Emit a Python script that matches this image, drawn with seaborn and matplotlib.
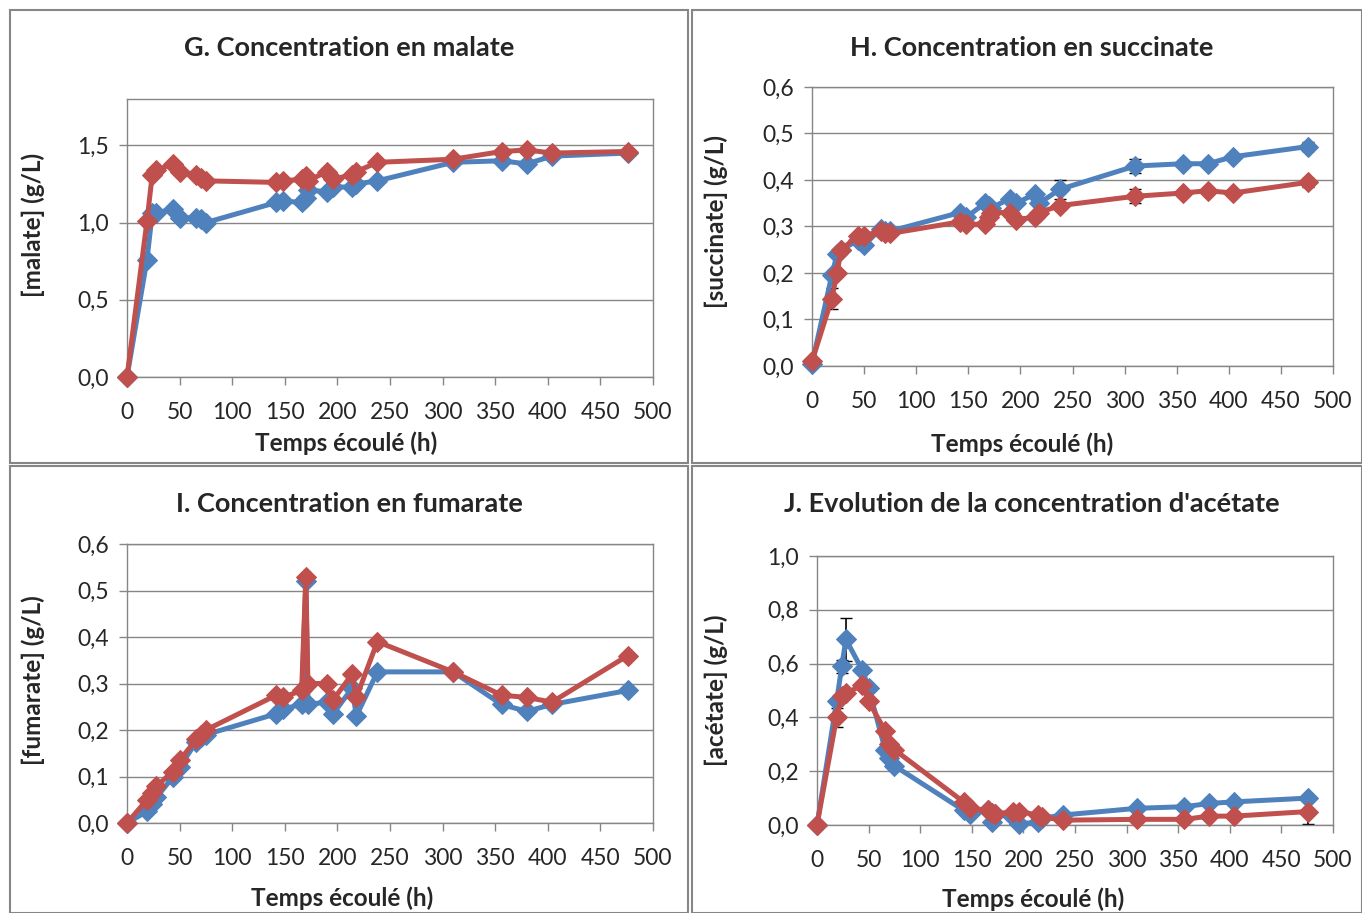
import numpy as np
import pandas as pd
import seaborn as sns
import matplotlib.pyplot as plt
from matplotlib.patches import Rectangle
from matplotlib.ticker import FuncFormatter

sns.set_style('white')
plt.rcParams['font.family'] = ['Lato', 'DejaVu Sans']

# temps de prélèvement (h)
temps = [0, 19, 24, 28, 44, 50, 66, 70, 75, 142, 148, 166, 170, 172,
         190, 196, 214, 218, 238, 310, 356, 380, 404, 476]

# G. malate (g/L)
malate_bleu = [0, 0.76, 1.06, 1.06, 1.09, 1.03, 1.03, 1.02, 1.00, 1.13, 1.14, 1.13,
               1.16, 1.21, 1.20, 1.23, 1.23, 1.25, 1.27, 1.39, 1.40, 1.38, 1.43, 1.45]
malate_rouge = [0, 1.01, 1.31, 1.34, 1.38, 1.33, 1.31, 1.29, 1.27, 1.26, 1.27, 1.28,
                1.30, 1.27, 1.33, 1.28, 1.31, 1.33, 1.39, 1.41, 1.46, 1.47, 1.45, 1.46]

# H. succinate (g/L)
succ_bleu = [0.005, 0.195, 0.24, 0.25, 0.27, 0.26, 0.295, 0.29, 0.29, 0.33, 0.32, 0.35,
             0.345, 0.34, 0.36, 0.35, 0.37, 0.35, 0.38, 0.43, 0.435, 0.435, 0.45, 0.472]
succ_rouge = [0.01, 0.145, 0.20, 0.25, 0.28, 0.28, 0.29, 0.285, 0.285, 0.31, 0.305, 0.305,
              0.32, 0.33, 0.33, 0.315, 0.32, 0.33, 0.345, 0.365, 0.372, 0.377, 0.372, 0.395]
succ_err_bleu = [0, 0, 0, 0, 0, 0, 0, 0, 0, 0, 0, 0, 0, 0, 0, 0, 0, 0, 0.02, 0.015, 0, 0, 0, 0.01]
succ_err_rouge = [0, 0.023, 0, 0, 0, 0, 0, 0, 0, 0, 0, 0, 0, 0, 0, 0, 0, 0, 0, 0.015, 0, 0, 0, 0.01]

# I. fumarate (g/L)
fum_bleu = [0, 0.025, 0.04, 0.055, 0.10, 0.12, 0.175, 0.185, 0.19, 0.235, 0.245, 0.255,
            0.52, 0.255, 0.26, 0.235, 0.29, 0.23, 0.325, 0.325, 0.255, 0.24, 0.255, 0.285]
fum_rouge = [0, 0.05, 0.065, 0.08, 0.11, 0.135, 0.18, 0.19, 0.20, 0.275, 0.27, 0.285,
             0.53, 0.30, 0.30, 0.265, 0.32, 0.27, 0.39, 0.325, 0.275, 0.27, 0.26, 0.36]

# J. acétate (g/L)
acet_bleu = [0, 0.46, 0.59, 0.69, 0.575, 0.51, 0.28, 0.25, 0.22, 0.055, 0.04, 0.055,
             0.01, 0.04, 0.03, 0.005, 0.01, 0.025, 0.037, 0.062, 0.068, 0.08, 0.086, 0.10]
acet_rouge = [0, 0.40, 0.48, 0.49, 0.52, 0.46, 0.35, 0.30, 0.28, 0.086, 0.062, 0.055,
              0.043, 0.04, 0.05, 0.05, 0.037, 0.03, 0.018, 0.021, 0.021, 0.033, 0.033, 0.05]
acet_err_bleu = [0, 0, 0.025, 0.08, 0, 0, 0, 0, 0, 0, 0, 0, 0, 0, 0, 0, 0, 0, 0, 0, 0, 0, 0, 0]
acet_err_rouge = [0, 0.035, 0, 0, 0, 0, 0, 0, 0, 0, 0, 0, 0, 0, 0, 0, 0, 0, 0, 0, 0, 0, 0, 0.045]

zeros = [0] * len(temps)
BLEU = '#4F81BD'
ROUGE = '#C0504D'
GRIS = '#868686'

W, H = 1362, 913
fig = plt.figure(figsize=(W / 100, H / 100), dpi=100)

# cadres des graphiques (pixels: x0, y0, x1, y1)
cadres = [(10, 10, 688, 463), (692, 10, 1362, 463), (10, 466, 688, 913), (692, 466, 1362, 913)]
for x0, y0, x1, y1 in cadres:
    fig.add_artist(Rectangle((x0 / W, 1 - y1 / H), (x1 - x0) / W, (y1 - y0) / H,
                             transform=fig.transFigure, fill=False, edgecolor=GRIS, lw=1.5))

# zone = zone de tracé en pixels ; xl / yl = centres des titres d'axes
panneaux = [
    dict(zone=(127, 99, 653, 377), titre='G. Concentration en malate', ylabel='[malate] (g/L)',
         bleu=malate_bleu, rouge=malate_rouge, eb=zeros, er=zeros,
         ymax=1.8, yticks=[0, 0.5, 1.0, 1.5], titre_y=48, cx=349, xl=(346, 443), yl=(33, 225)),
    dict(zone=(812, 87, 1333, 366), titre='H. Concentration en succinate', ylabel='[succinate] (g/L)',
         bleu=succ_bleu, rouge=succ_rouge, eb=succ_err_bleu, er=succ_err_rouge,
         ymax=0.6, yticks=np.arange(0, 0.61, 0.1), titre_y=48, cx=1032, xl=(1022, 444), yl=(716, 222)),
    dict(zone=(127, 544, 653, 823), titre='I. Concentration en fumarate', ylabel='[fumarate] (g/L)',
         bleu=fum_bleu, rouge=fum_rouge, eb=zeros, er=zeros,
         ymax=0.6, yticks=np.arange(0, 0.61, 0.1), titre_y=504, cx=349, xl=(342, 898), yl=(33, 680)),
    dict(zone=(817, 556, 1333, 825), titre="J. Evolution de la concentration d'acétate",
         ylabel='[acétate] (g/L)', bleu=acet_bleu, rouge=acet_rouge, eb=acet_err_bleu, er=acet_err_rouge,
         ymax=1.0, yticks=np.arange(0, 1.01, 0.2), titre_y=504, cx=1032, xl=(1033, 899), yl=(716, 690)),
]

virgule = FuncFormatter(lambda v, p: f'{v:.1f}'.replace('.', ','))

for p in panneaux:
    x0, y0, x1, y1 = p['zone']
    ax = fig.add_axes([x0 / W, 1 - y1 / H, (x1 - x0) / W, (y1 - y0) / H])
    df = pd.DataFrame({'temps': temps, 'bleu': p['bleu'], 'rouge': p['rouge']})
    ax.errorbar(df['temps'], df['bleu'], yerr=p['eb'], fmt='none', ecolor='black',
                elinewidth=1.2, capsize=4, zorder=1)
    ax.errorbar(df['temps'], df['rouge'], yerr=p['er'], fmt='none', ecolor='black',
                elinewidth=1.2, capsize=4, zorder=1)
    sns.lineplot(data=df, x='temps', y='bleu', ax=ax, color=BLEU, lw=3.6, marker='D',
                 markersize=10.5, markeredgecolor=BLEU, estimator=None, sort=False, zorder=3)
    sns.lineplot(data=df, x='temps', y='rouge', ax=ax, color=ROUGE, lw=3.6, marker='D',
                 markersize=10.5, markeredgecolor=ROUGE, estimator=None, sort=False, zorder=4)

    ax.set_xlim(0, 500)
    ax.set_ylim(0, p['ymax'])
    ax.set_xticks(range(0, 501, 50))
    ax.set_yticks(p['yticks'])
    ax.yaxis.set_major_formatter(virgule)
    ax.grid(axis='y', color=GRIS, lw=1)
    ax.set_axisbelow(True)
    for s in ax.spines.values():
        s.set_color(GRIS)
        s.set_linewidth(1)
    ax.tick_params(axis='both', direction='out', length=6, width=1, color=GRIS,
                   labelsize=16.5, bottom=True, left=True)
    ax.tick_params(axis='x', pad=12)
    ax.tick_params(axis='y', pad=7)
    for c in ax.collections + ax.lines:
        c.set_clip_on(False)
    ax.set_xlabel('')
    ax.set_ylabel('')
    fig.text(p['xl'][0] / W, 1 - p['xl'][1] / H, 'Temps écoulé (h)', ha='center', va='center',
             fontsize=17.5, fontweight='bold')
    fig.text(p['yl'][0] / W, 1 - p['yl'][1] / H, p['ylabel'], ha='center', va='center',
             rotation=90, fontsize=17.5, fontweight='bold')
    fig.text(p['cx'] / W, 1 - p['titre_y'] / H, p['titre'], ha='center', va='center',
             fontsize=19.5, fontweight='bold')

fig.savefig('out.png', dpi=100)
